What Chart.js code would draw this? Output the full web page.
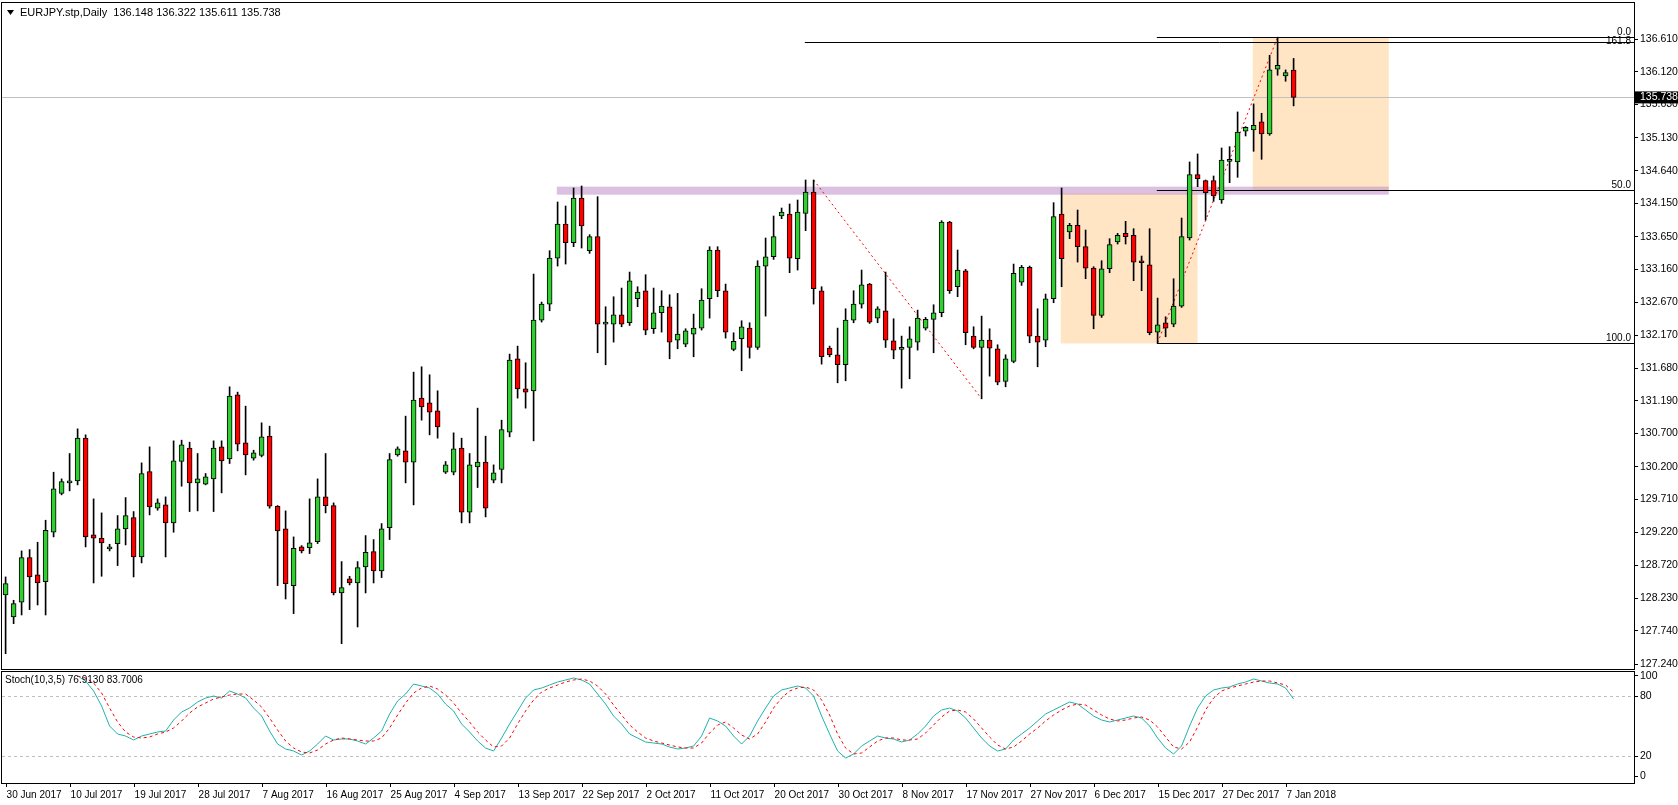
<!DOCTYPE html>
<html><head><meta charset="utf-8">
<script src="https://cdn.jsdelivr.net/npm/chart.js@4.4.1/dist/chart.umd.min.js"></script>
<style>
html,body{margin:0;padding:0;background:#fff;overflow:hidden}
#w1{position:absolute;left:0;top:0;width:1678px;height:670px}
#w2{position:absolute;left:0;top:670px;width:1678px;height:135px}
</style></head><body>
<div id="w1"><canvas id="c1"></canvas></div>
<div id="w2"><canvas id="c2"></canvas></div>
<script>
const opens=[128.28,127.95,128.17,128.84,128.58,128.48,129.22,129.80,129.96,129.99,130.63,129.18,129.13,128.97,129.05,129.27,129.44,128.85,130.13,129.58,129.63,129.36,130.28,130.48,129.96,129.94,130.02,130.50,130.32,131.28,130.56,130.33,130.37,130.66,129.61,129.27,128.42,129.00,128.99,129.08,129.75,129.62,128.31,128.52,128.46,128.70,128.93,128.64,129.29,130.38,130.44,130.27,131.23,131.16,131.04,130.12,130.12,130.48,129.52,130.20,130.27,130.00,130.16,130.72,131.82,131.37,131.34,132.40,132.64,133.33,133.84,133.56,134.23,133.44,133.65,132.34,132.34,132.48,132.36,132.72,132.84,132.27,132.51,132.60,132.10,132.04,132.19,132.28,132.72,133.45,132.84,131.96,132.12,132.28,131.99,133.21,133.35,133.96,133.99,133.32,134.00,134.32,132.84,131.98,131.88,131.73,132.40,132.64,132.94,132.43,132.54,132.09,131.96,131.99,132.07,132.28,132.41,132.51,133.87,132.90,133.14,132.16,131.99,132.10,131.97,131.48,131.78,132.97,133.19,132.16,132.10,132.72,133.99,133.72,133.82,133.50,133.18,132.47,133.17,133.57,133.70,133.67,133.29,133.23,132.22,132.36,132.34,132.61,133.63,134.58,134.49,134.49,134.20,134.78,134.77,135.23,135.25,135.37,135.19,136.16,136.06,136.148];
const highs=[128.55,128.20,128.94,128.96,129.07,129.40,130.12,130.02,130.40,130.77,130.68,129.72,129.51,129.04,129.47,129.74,129.53,130.26,130.50,129.72,129.75,130.59,130.60,130.57,130.40,130.10,130.59,130.59,131.40,131.32,131.11,130.45,130.86,130.81,129.62,129.54,129.15,129.02,129.72,130.02,130.40,129.66,128.78,128.56,128.78,129.17,129.11,129.35,130.40,130.50,130.96,131.62,131.70,131.58,131.34,130.28,130.71,130.63,130.40,131.08,130.66,130.23,130.90,131.89,132.01,131.76,133.09,132.67,133.44,134.17,134.11,134.38,134.41,133.68,134.25,132.60,132.75,132.88,133.12,132.90,133.08,132.88,132.84,132.78,132.80,132.27,132.49,132.87,133.50,133.50,132.94,132.21,132.39,132.36,133.29,133.63,133.96,134.08,134.14,134.20,134.50,134.50,132.90,132.01,132.28,132.57,132.84,133.15,132.95,132.60,133.12,132.42,132.16,132.30,132.55,132.44,132.63,133.89,133.88,133.45,133.16,132.30,132.46,132.27,132.03,131.88,133.24,133.22,133.21,132.57,132.79,134.16,134.38,133.85,134.05,133.75,133.20,133.29,133.62,133.70,133.88,133.77,133.36,133.77,132.73,132.45,133.02,133.93,134.77,134.89,134.50,134.56,134.98,135.00,135.52,135.30,135.64,135.50,136.37,136.64,136.15,136.322];
const lows=[127.40,127.85,127.98,128.06,128.13,127.98,129.15,129.78,129.84,129.93,129.00,128.46,128.56,128.94,128.72,129.03,128.55,128.76,129.48,129.55,128.85,129.22,129.91,129.53,129.54,129.93,129.53,129.81,130.25,130.44,130.08,130.30,130.35,129.58,128.42,128.22,128.00,128.91,128.90,129.05,129.51,128.28,127.55,128.43,127.80,128.31,128.46,128.54,129.11,130.36,129.96,129.63,130.90,130.68,130.63,130.10,130.08,129.36,129.36,129.89,129.45,129.96,129.96,130.65,131.23,131.08,130.59,132.37,132.54,133.21,133.24,133.50,133.48,133.40,131.91,131.73,132.07,132.30,132.32,132.60,132.18,132.20,132.22,131.82,131.97,132.00,131.85,132.25,132.43,132.75,132.13,131.94,131.64,131.83,131.96,132.46,133.31,133.92,133.11,133.15,133.74,132.64,131.74,131.85,131.46,131.49,132.36,132.58,132.35,132.36,131.99,131.82,131.38,131.52,131.95,132.25,131.91,132.45,132.80,132.75,132.03,131.97,131.22,131.56,131.43,131.40,131.76,132.92,132.06,131.70,132.00,132.66,132.90,133.62,133.27,133.02,132.27,132.44,133.11,133.54,133.54,132.99,132.84,132.18,132.06,132.15,132.30,132.59,133.60,134.40,133.90,134.18,134.15,134.46,134.54,135.16,134.93,134.81,135.17,136.07,135.98,135.611];
const closes=[128.45,128.15,128.84,128.55,128.46,129.25,129.87,129.98,129.99,130.63,129.15,129.13,129.06,129.00,129.27,129.47,128.85,130.10,129.60,129.66,129.36,130.29,130.53,129.96,130.02,130.05,130.48,130.29,131.26,130.54,130.38,130.41,130.65,129.61,129.24,128.45,128.98,128.94,129.06,129.75,129.62,128.31,128.39,128.46,128.69,128.92,128.64,129.27,130.31,130.47,130.27,131.20,131.10,131.02,130.80,130.23,130.47,129.52,130.23,130.27,129.58,130.11,130.76,131.80,131.37,131.32,132.40,132.64,133.33,133.84,133.56,134.23,133.81,133.65,132.34,132.35,132.48,132.34,132.99,132.82,132.25,132.51,132.61,132.07,132.19,132.24,132.28,132.70,133.45,132.84,132.22,132.08,132.30,131.99,133.21,133.35,133.65,134.02,133.33,134.02,134.32,132.87,131.85,131.88,131.73,132.40,132.64,132.93,132.37,132.57,132.10,131.95,131.99,132.12,132.43,132.41,132.51,133.87,132.84,133.15,132.21,131.99,132.10,131.98,131.47,131.82,133.10,133.19,132.16,132.07,132.72,133.95,133.32,133.82,133.50,133.18,132.47,133.17,133.53,133.67,133.65,133.27,133.26,132.21,132.33,132.28,132.61,133.65,134.58,134.52,134.31,134.26,134.80,134.79,135.22,135.29,135.32,135.19,136.15,136.22,136.11,135.738];
const stochK=[100,95,85,70,50,42,40,36,40,42,44,45,56,64,68,74,78,80,78,85,82,78,68,60,45,32,27,25,21,25,32,40,36,37,37,35,32,38,45,62,75,82,92,90,88,82,72,65,52,44,35,28,25,38,52,65,78,86,88,91,94,96,98,96,92,82,72,60,52,42,38,34,33,32,29,27,28,30,40,58,55,50,40,32,40,55,68,80,86,88,90,88,80,60,42,25,18,22,30,35,40,38,37,34,36,42,50,60,66,68,65,58,48,38,30,25,27,36,42,48,55,62,66,70,74,72,66,60,56,54,56,58,60,58,50,38,28,22,30,50,68,80,86,88,89,92,94,97,95,93,92,88,76.913];
const stochD=[100,98,93,83,68,54,44,39,38,39,42,44,48,55,63,69,73,77,79,81,82,82,76,69,58,46,35,28,24,23,26,32,36,38,37,36,35,35,38,48,61,73,83,88,90,87,81,73,63,54,44,36,29,30,38,52,65,76,84,88,91,94,96,97,95,90,82,71,61,51,44,38,35,33,31,29,28,28,33,43,51,54,48,41,37,42,54,68,78,85,88,89,86,76,61,42,28,22,23,29,35,38,38,36,36,37,43,51,59,65,66,64,57,48,39,31,27,29,35,42,48,55,61,66,70,72,71,66,61,57,55,56,58,59,56,49,39,29,27,34,49,66,78,85,88,90,92,94,95,95,93,91,83.7006];
const stochStart=9;
const priceTicks=[127.240,127.740,128.230,128.720,129.220,129.710,130.200,130.700,131.190,131.680,132.170,132.670,133.160,133.650,134.150,134.640,135.130,135.630,136.120,136.610];
const dateLabels=["30 Jun 2017","10 Jul 2017","19 Jul 2017","28 Jul 2017","7 Aug 2017","16 Aug 2017","25 Aug 2017","4 Sep 2017","13 Sep 2017","22 Sep 2017","2 Oct 2017","11 Oct 2017","20 Oct 2017","30 Oct 2017","8 Nov 2017","17 Nov 2017","27 Nov 2017","6 Dec 2017","15 Dec 2017","27 Dec 2017","7 Jan 2018"];
const dateEvery=8;
const lastPrice=135.738;
const boxes=[[131.9,149,134.30,132.05],[155.9,172.9,136.64,134.35]];
const band=[68.9,172.9,134.40,134.28];
const fibLines=[[143.9,136.64,"0.0"],[99.9,136.57,"161.8"],[143.9,134.35,"50.0"],[143.9,132.05,"100.0"]];
const trendLines=[[101,134.50,122,131.22],[144,132.06,159,136.64]];

const FONT='"Liberation Sans", Arial, sans-serif';
const N=opens.length;
const wick=[],body=[],bodyCol=[];
for(let i=0;i<N;i++){wick.push({x:i,y:[lows[i],highs[i]]});body.push({x:i,y:[opens[i],closes[i]]});bodyCol.push(closes[i]>=opens[i]?'#32cd32':'#ff0000');}
const XMIN=-0.45,XMAX=203.55;
function noPad(s){s.width=44;s.paddingTop=0;s.paddingBottom=0;}

const overlay={id:'ov',
beforeDatasetsDraw(ch){const c=ch.ctx,x=ch.scales.x,y=ch.scales.y,a=ch.chartArea;c.save();
 c.beginPath();c.rect(a.left,a.top,a.width,a.height);c.clip();
 c.fillStyle='rgba(255,218,170,0.7)';
 boxes.forEach(b=>{const x1=x.getPixelForValue(b[0]),x2=x.getPixelForValue(b[1]),y1=y.getPixelForValue(b[2]),y2=y.getPixelForValue(b[3]);c.fillRect(x1,y1,x2-x1,y2-y1);});
 c.fillStyle='rgba(190,140,200,0.55)';
 {const x1=x.getPixelForValue(band[0]),x2=x.getPixelForValue(band[1]),y1=y.getPixelForValue(band[2]),y2=y.getPixelForValue(band[3]);c.fillRect(x1,y1,x2-x1,y2-y1);}
 c.strokeStyle='#c0c0c0';c.lineWidth=1;const py=Math.round(y.getPixelForValue(lastPrice))+0.5;c.beginPath();c.moveTo(a.left,py);c.lineTo(a.right,py);c.stroke();
 c.strokeStyle='#000';
 fibLines.forEach(f=>{const yy=Math.round(y.getPixelForValue(f[1]))+0.5;c.beginPath();c.moveTo(x.getPixelForValue(f[0]),yy);c.lineTo(a.right,yy);c.stroke();});
 c.strokeStyle='#ff0000';c.setLineDash([2,3]);
 trendLines.forEach(t=>{c.beginPath();c.moveTo(x.getPixelForValue(t[0]),y.getPixelForValue(t[1]));c.lineTo(x.getPixelForValue(t[2]),y.getPixelForValue(t[3]));c.stroke();});
 c.restore();},
afterDraw(ch){const c=ch.ctx,x=ch.scales.x,y=ch.scales.y,a=ch.chartArea;c.save();
 c.strokeStyle='#000';c.lineWidth=1;c.strokeRect(a.left-0.5,a.top-0.5,a.width+1,a.height+1);
 c.font='10px '+FONT;c.fillStyle='#000';c.textAlign='right';c.textBaseline='bottom';
 fibLines.forEach(f=>{c.fillText(f[2],a.right-3,y.getPixelForValue(f[1])+(f[2]==='161.8'?4:0));});
 const py=y.getPixelForValue(lastPrice);c.fillStyle='#000';c.fillRect(a.right+1,py-6,43,12);
 c.fillStyle='#fff';c.textAlign='left';c.textBaseline='middle';c.font='10.5px '+FONT;c.fillText(lastPrice.toFixed(3),a.right+6,py);
 c.fillStyle='#000';c.font='11px '+FONT;c.textAlign='left';c.fillText('EURJPY.stp,Daily  136.148 136.322 135.611 135.738',20,13);
 c.beginPath();c.moveTo(7,10);c.lineTo(14,10);c.lineTo(10.5,15);c.closePath();c.fill();
 c.restore();}};

new Chart(document.getElementById('c1'),{type:'bar',
 data:{datasets:[
  {data:wick,backgroundColor:'#000',borderWidth:0,barThickness:1,grouped:false,order:2},
  {data:body,backgroundColor:bodyCol,borderColor:'#000',borderWidth:1,borderSkipped:false,barThickness:5,minBarLength:2,grouped:false,order:1}]},
 options:{responsive:true,maintainAspectRatio:false,animation:false,
  layout:{padding:{left:2,top:3,bottom:1,right:0}},
  plugins:{legend:{display:false},tooltip:{enabled:false}},
  scales:{
   x:{type:'linear',min:XMIN,max:XMAX,display:false,offset:false},
   y:{position:'right',min:127.17,max:137.153,
    afterBuildTicks(s){s.ticks=priceTicks.map(v=>({value:v}));},
    afterFit:noPad,
    border:{display:false},
    grid:{drawOnChartArea:false,tickLength:4,color:'#000'},
    ticks:{padding:2,color:'#000',font:{family:FONT,size:10.5},callback:v=>v.toFixed(3)}}}},
 plugins:[overlay]});

const kData=stochK.map((v,i)=>({x:i+stochStart,y:v}));
const dData=stochD.map((v,i)=>({x:i+stochStart,y:v}));
const stochPlug={id:'st',
beforeDatasetsDraw(ch){const c=ch.ctx,y=ch.scales.y,a=ch.chartArea;c.save();c.strokeStyle='#c0c0c0';c.setLineDash([3,3]);
 [20,80].forEach(v=>{const yy=Math.round(y.getPixelForValue(v))+0.5;c.beginPath();c.moveTo(a.left,yy);c.lineTo(a.right,yy);c.stroke();});c.restore();},
afterDraw(ch){const c=ch.ctx,x=ch.scales.x,a=ch.chartArea;c.save();c.strokeStyle='#000';c.lineWidth=1;
 c.strokeRect(a.left-0.5,a.top-0.5,a.width+1,a.height+1);
 c.fillStyle='#000';c.font='10px '+FONT;c.textAlign='left';c.textBaseline='top';
 c.fillText('Stoch(10,3,5) 76.9130 83.7006',5,a.top+3);
 dateLabels.forEach((t,i)=>{const px=x.getPixelForValue(i*dateEvery);c.beginPath();c.moveTo(Math.round(px)+0.5,a.bottom);c.lineTo(Math.round(px)+0.5,a.bottom+4);c.stroke();c.fillText(t,px+1,a.bottom+7);});
 c.restore();}};
new Chart(document.getElementById('c2'),{type:'line',
 data:{datasets:[
  {data:kData,borderColor:'#20b2aa',borderWidth:1,pointRadius:0,tension:0,order:2},
  {data:dData,borderColor:'#ff0000',borderWidth:1,borderDash:[3,3],pointRadius:0,tension:0,order:1}]},
 options:{responsive:true,maintainAspectRatio:false,animation:false,
  layout:{padding:{left:2,top:2,bottom:22,right:0}},
  plugins:{legend:{display:false},tooltip:{enabled:false}},
  scales:{
   x:{type:'linear',min:XMIN,max:XMAX,display:false},
   y:{position:'right',min:-7,max:104,
    afterBuildTicks(s){s.ticks=[0,20,80,100].map(v=>({value:v}));},
    afterFit:noPad,
    border:{display:false},
    grid:{drawOnChartArea:false,tickLength:4,color:'#000'},
    ticks:{padding:2,color:'#000',font:{family:FONT,size:10.5}}}}},
 plugins:[stochPlug]});
</script></body></html>
